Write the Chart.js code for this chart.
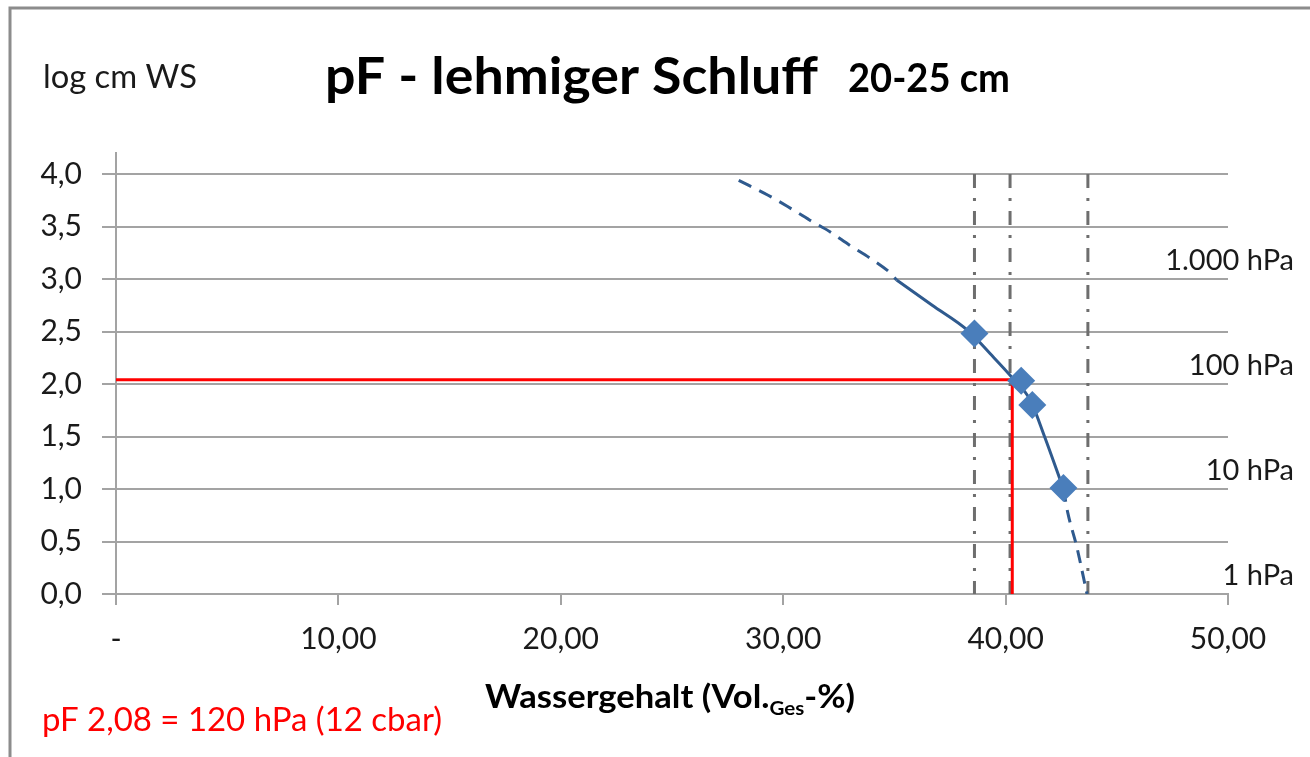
<!DOCTYPE html>
<html>
<head>
<meta charset="utf-8">
<script src="https://cdn.jsdelivr.net/npm/chart.js@4.4.1/dist/chart.umd.min.js"></script>
<style>
  html, body { margin: 0; padding: 0; background: #fff; }
  #wrap { width: 1310px; height: 757px; position: relative; }
</style>
</head>
<body>
<div id="wrap"><canvas id="pf"></canvas></div>
<script>
// ---- data ----
// measured points (water content vol-%, pF)
const measX = [38.6, 40.7, 41.2, 42.6];
const measY = [2.48, 2.03, 1.80, 1.01];

// fitted retention curve, solid part
const fitX = [35.1, 36.7, 38.3, 39.3, 40.3, 41.1, 41.75, 42.6];
const fitY = [2.99, 2.75, 2.51, 2.29, 2.06, 1.85, 1.50, 1.00];

// extrapolated (dashed) parts
const dryX = [28.0, 29.3, 30.2, 31.2, 32.1, 33.0, 33.9, 34.8, 35.1];
const dryY = [3.94, 3.80, 3.69, 3.56, 3.45, 3.32, 3.20, 3.06, 2.99];
const wetX = [42.6, 42.8, 43.2, 43.66];
const wetY = [1.00, 0.77, 0.45, 0.00];

// vertical reference lines (dash-dot)
const refX = [38.6, 40.2, 43.7];
const refTop = 4.0;

// red read-off lines
const redPf = 2.04;
const redTheta = 40.3;

// axes
const xTicks = [0, 10, 20, 30, 40, 50];
const xTickLabels = ['-', '10,00', '20,00', '30,00', '40,00', '50,00'];
const yTickLabels = ['0,0', '0,5', '1,0', '1,5', '2,0', '2,5', '3,0', '3,5', '4,0'];

// right-hand pressure labels
const hpaPf = [3, 2, 1, 0];
const hpaLabels = ['1.000 hPa', '100 hPa', '10 hPa', '1 hPa'];

const pts = (xs, ys) => xs.map((x, i) => ({ x, y: ys[i] }));

const GRID = '#a3a3a3';
const FONT = 'Lato, "Open Sans", sans-serif';

// draw text stretched/condensed to a given width
function fitText(ctx, s, x, y, font, color, width) {
  ctx.save();
  ctx.font = font;
  ctx.fillStyle = color;
  ctx.textAlign = 'left';
  ctx.textBaseline = 'alphabetic';
  const k = width / ctx.measureText(s).width;
  ctx.translate(x, y);
  ctx.scale(k, 1);
  ctx.fillText(s, 0, 0);
  ctx.restore();
}

const decor = {
  id: 'decor',
  afterDraw(chart) {
    const ctx = chart.ctx;
    const ys = chart.scales.y;

    // frame
    ctx.save();
    ctx.strokeStyle = '#8c8c8c';
    ctx.lineWidth = 3;
    ctx.beginPath();
    ctx.moveTo(10, 757);
    ctx.lineTo(10, 8);
    ctx.lineTo(1310, 8);
    ctx.stroke();
    ctx.restore();

    // titles
    fitText(ctx, 'pF - lehmiger Schluff', 325, 94, 'bold 51px ' + FONT, '#000', 493);
    fitText(ctx, '20-25 cm', 848, 92, 'bold 41px ' + FONT, '#000', 162);
    fitText(ctx, 'log cm WS', 43, 88, '32px ' + FONT, '#1a1a1a', 154);

    // x axis title with subscript
    ctx.save();
    const f1 = 'bold 32px ' + FONT, f2 = 'bold 19px ' + FONT;
    const parts = [['Wassergehalt (Vol.', f1, 0], ['Ges', f2, 7], ['-%)', f1, 0]];
    let total = 0;
    parts.forEach(p => { ctx.font = p[1]; total += ctx.measureText(p[0]).width; });
    const k = 370 / total;
    ctx.translate(485, 708);
    ctx.scale(k, 1);
    ctx.fillStyle = '#000';
    ctx.textBaseline = 'alphabetic';
    let cx = 0;
    parts.forEach(p => {
      ctx.font = p[1];
      ctx.fillText(p[0], cx, p[2]);
      cx += ctx.measureText(p[0]).width;
    });
    ctx.restore();

    // red note
    fitText(ctx, 'pF 2,08 = 120 hPa (12 cbar)', 42, 731, '33px ' + FONT, '#ff0000', 400);

    // hPa labels
    ctx.save();
    ctx.font = '29px ' + FONT;
    ctx.fillStyle = '#1a1a1a';
    ctx.textAlign = 'right';
    ctx.textBaseline = 'alphabetic';
    hpaPf.forEach((v, i) => {
      ctx.fillText(hpaLabels[i], 1294, ys.getPixelForValue(v) - 9);
    });
    ctx.restore();
  }
};

const lineDs = (data, color, width, dash, extra) => Object.assign({
  type: 'scatter',
  data,
  showLine: true,
  borderColor: color,
  borderWidth: width,
  borderDash: dash || [],
  pointRadius: 0,
  fill: false
}, extra || {});

const datasets = [
  {
    type: 'scatter',
    data: pts(measX, measY),
    pointStyle: 'rectRot',
    pointRadius: 14,
    backgroundColor: '#4A7EBB',
    borderColor: '#4A7EBB',
    borderWidth: 0,
    showLine: false
  },
  lineDs(pts(fitX, fitY), '#2F5A8E', 3, null, { cubicInterpolationMode: 'monotone' }),
  lineDs(pts(dryX, dryY), '#2F5A8E', 3, [14, 9], { cubicInterpolationMode: 'monotone' }),
  lineDs(pts(wetX, wetY), '#2F5A8E', 3, [13, 8], { cubicInterpolationMode: 'monotone' }),
  lineDs([{ x: 0, y: redPf }, { x: redTheta, y: redPf }, { x: redTheta, y: 0 }], '#ff0000', 3)
].concat(refX.map(x => lineDs([{ x, y: refTop }, { x, y: 0 }], '#6e6e6e', 3, [14, 10, 3, 10])));

new Chart(document.getElementById('pf'), {
  type: 'scatter',
  data: { datasets },
  options: {
    responsive: true,
    maintainAspectRatio: false,
    animation: false,
    layout: { padding: { left: 0, top: 153, right: 82, bottom: 103 } },
    plugins: { legend: { display: false }, tooltip: { enabled: false } },
    scales: {
      x: {
        type: 'linear',
        min: 0,
        max: 50,
        afterFit: s => { s.height = 60; },
        afterBuildTicks: s => { s.ticks = xTicks.map(v => ({ value: v })); },
        ticks: {
          padding: 16,
          color: '#1a1a1a',
          font: { family: FONT, size: 30 },
          maxRotation: 0,
          callback: (v, i) => xTickLabels[i]
        },
        grid: { drawOnChartArea: false, drawTicks: true, tickLength: 11, color: GRID, lineWidth: 2 },
        border: { color: GRID, width: 2 }
      },
      y: {
        type: 'linear',
        min: 0,
        max: 4.2,
        afterFit: s => { s.width = 116; },
        ticks: {
          stepSize: 0.5,
          includeBounds: false,
          padding: 20,
          color: '#1a1a1a',
          font: { family: FONT, size: 30 },
          callback: (v, i) => yTickLabels[i]
        },
        grid: { color: GRID, lineWidth: 2, tickLength: 14 },
        border: { color: GRID, width: 2 }
      }
    }
  },
  plugins: [decor]
});
</script>
</body>
</html>
